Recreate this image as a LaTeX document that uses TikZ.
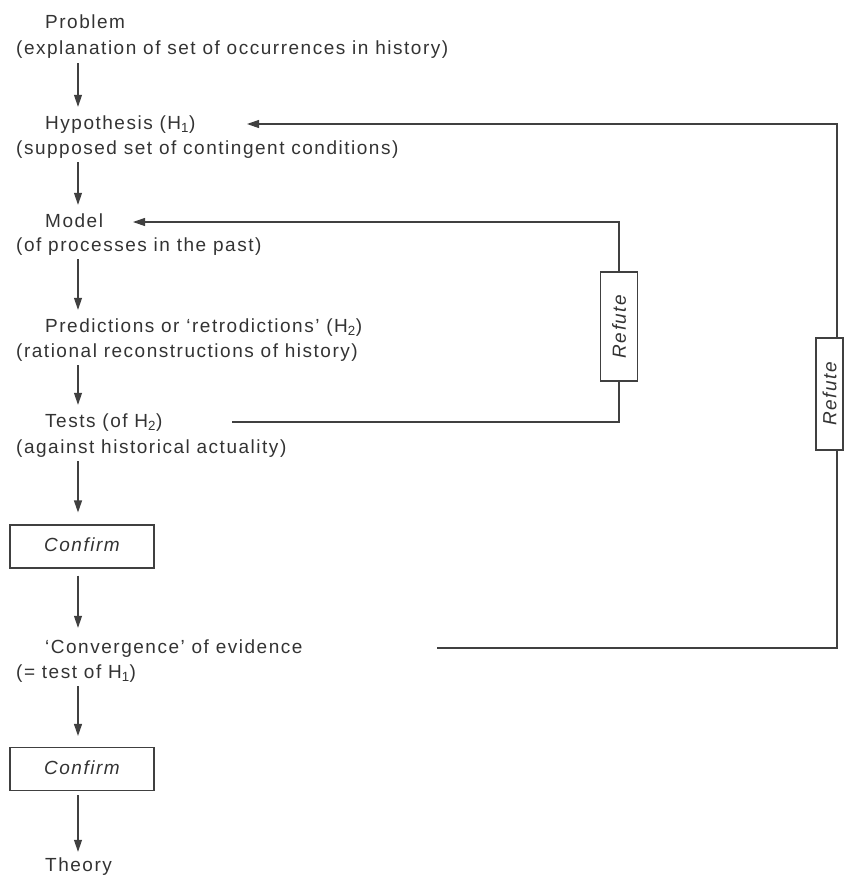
\documentclass[tikz,border=0pt]{standalone}
\usepackage{graphicx}
\usepackage{fontspec}
\setmainfont{Liberation Sans}[LetterSpace=8]
\usetikzlibrary{arrows.meta, positioning, calc}

\begin{document}
\begin{tikzpicture}[
    x=1pt, y=-1pt,
    >={Triangle[length=12pt, width=8pt]}, % narrow filled heads
    txt/.style={anchor=base west, inner sep=2pt, text height=14pt, text depth=4pt,
        text=black!80, font=\fontsize{19}{22}\selectfont}, % plain text lines
    box/.style={draw=black!75, line width=1.1pt, inner sep=0pt, minimum width=144pt,
        minimum height=43pt, text height=14pt, text depth=4pt, text=black!80,
        font=\fontsize{19}{22}\selectfont\itshape}, % Confirm boxes
    refbox/.style={draw=black!75, line width=1.1pt, inner sep=0pt, minimum width=37pt,
        minimum height=109pt, text=black!80, font=\fontsize{19}{22}\selectfont\itshape}, % Refute boxes
    flow/.style={->, draw=black!75, line width=1.1pt, shorten >=6pt, shorten <=2pt}, % main chain
    fb/.style={draw=black!75, line width=1.1pt} % feedback lines
]

    % === Page size ===
    \useasboundingbox (0,0) rectangle (843,875);

    % === Main chain of steps ===
    \node[txt] (prob)     at (43,29)  {Problem};
    \node[txt] (probsub)  at (14,55)  {(explanation of set of occurrences in history)};

    \node[txt] (hyp)      at (43,129) {Hypothesis (H\textsubscript{1})};
    \node[txt] (hypsub)   at (14,154) {(supposed set of contingent conditions)};

    \node[txt] (model)    at (43,227) {Model};
    \node[txt] (modelsub) at (14,251) {(of processes in the past)};

    \node[txt] (pred)     at (43,332) {Predictions or `retrodictions' (H\textsubscript{2})};
    \node[txt] (predsub)  at (14,357) {(rational reconstructions of history)};

    \node[txt] (tests)    at (43,427) {Tests (of H\textsubscript{2})};
    \node[txt] (testssub) at (14,453) {(against historical actuality)};

    \node[box] (conf1)    at (82,546.5) {Confirm};

    \node[txt] (conv)     at (43,653) {`Convergence' of evidence};
    \node[txt] (convsub)  at (14,678) {(= test of H\textsubscript{1})};

    \node[box] (conf2)    at (82,769) {Confirm};

    \node[txt] (theory)   at (43,871) {Theory};

    % === Arrows down the left column ===
    \coordinate (col) at (78,0);
    \draw[flow] (probsub.south -| col)  -- (hyp.north -| col);
    \draw[flow] (hypsub.south -| col)   -- (model.north -| col);
    \draw[flow] (modelsub.south -| col) -- (pred.north -| col);
    \draw[flow] (predsub.south -| col)  -- (tests.north -| col);
    \draw[flow, shorten >=12pt] (testssub.south -| col) -- (conf1.north -| col);
    \draw[flow, shorten <=7pt, shorten >=9pt] (conf1.south -| col) -- (conv.north -| col);
    \draw[flow, shorten >=11pt] (convsub.south -| col) -- (conf2.north -| col);
    \draw[flow, shorten <=4pt, shorten >=3pt] (conf2.south -| col) -- (theory.north -| col);

    % === Refute boxes ===
    \node[refbox] (ref1) at (619,326.5) {\rotatebox{90}{Refute}};
    % right box runs into the page edge
    \node[refbox, minimum width=27pt, minimum height=112pt] (ref2) at (829.5,394) {\rotatebox{90}{Refute}};

    % === Feedback loops ===
    % free ends of the loops, level with the text they leave or reach
    \coordinate (tout) at (232,0 |- tests.east);
    \coordinate (min)  at (133,0 |- model.east);
    \coordinate (cout) at (437,0 |- conv.east);
    \coordinate (hin)  at (247,0 |- hyp.east);

    % inner loop: tests back to the model
    \draw[fb] (tout) -| (ref1.south);
    \draw[fb, ->] (ref1.north) |- (min);

    % outer loop: convergence back to the hypothesis
    \draw[fb] (cout) -| ([xshift=7.5pt]ref2.south);
    \draw[fb, ->] ([xshift=7.5pt]ref2.north) |- (hin);

\end{tikzpicture}
\end{document}
